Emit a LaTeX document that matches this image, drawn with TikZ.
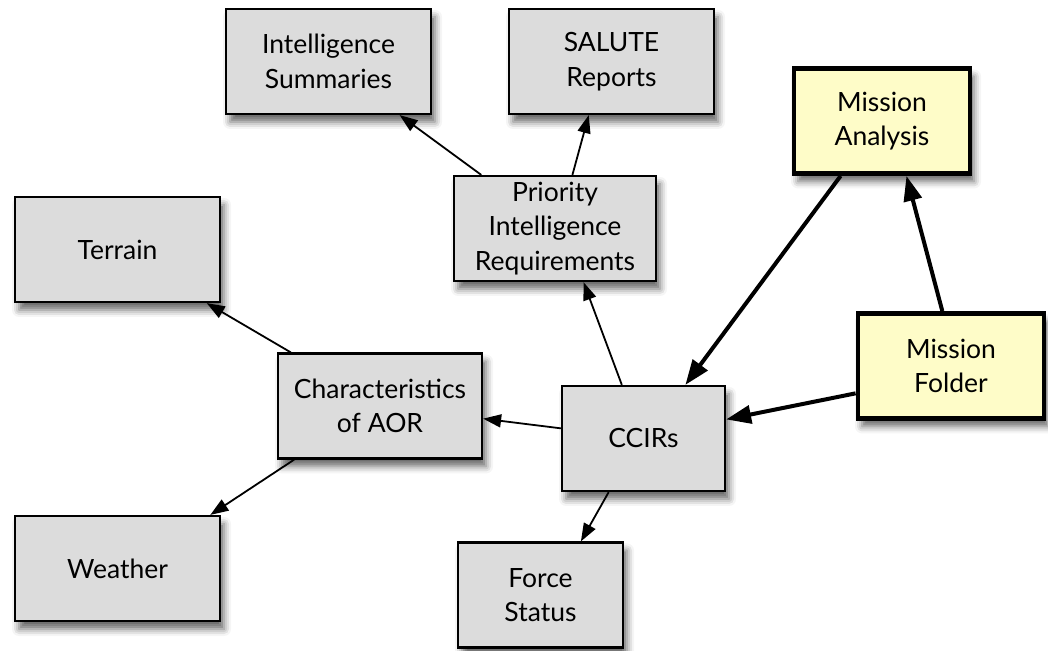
\documentclass[tikz,border=0pt]{standalone}
\usepackage{fontspec}
\setmainfont{Lato}
\usetikzlibrary{shadows.blur,arrows.meta}
\definecolor{boxgray}{HTML}{DCDCDC}
\definecolor{boxyellow}{HTML}{FEFCC8}
\tikzset{
  graybox/.style={draw=black, line width=2.2pt, fill=boxgray, align=center,
    minimum width=#1, minimum height=105pt, inner sep=0pt,
    font=\fontsize{26.5}{34.5}\selectfont,
    blur shadow={shadow xshift=4pt, shadow yshift=-8pt, shadow blur radius=7pt, shadow opacity=60}},
  yellowbox/.style={graybox=#1, line width=4.8pt, fill=boxyellow},
  thinarrow/.style={line width=1.8pt, -{Triangle[length=18pt,width=13pt]}},
  thickarrow/.style={line width=4pt, -{Triangle[length=25pt,width=18pt]}},
}
\begin{document}
\begin{tikzpicture}[x=1pt,y=1pt]
\useasboundingbox (0,0) rectangle (1048,650);
\node[graybox=205pt] (is) at (328.5,588.5) {Intelligence\\Summaries};
\node[graybox=205pt] (sr) at (611.5,588.5) {SALUTE\\Reports};
\node[yellowbox=176pt] (ma) at (882,529) {Mission\\Analysis};
\node[graybox=202pt] (pir) at (555,421.5) {Priority\\Intelligence\\Requirements};
\node[graybox=205pt] (ter) at (117.5,400.5) {Terrain};
\node[graybox=204pt] (car) at (380,244) {Characteristics\\of AOR};
\node[graybox=163pt] (cc) at (643.5,211.5) {CCIRs};
\node[yellowbox=186pt] (mf) at (951,284) {Mission\\Folder};
\node[graybox=205pt] (we) at (117.5,81.5) {Weather};
\node[graybox=165pt] (fs) at (540.5,55) {Force\\Status};

\draw[thinarrow] (pir.144) -- (is.-37);
\draw[thinarrow] (pir.72) -- (sr.-113);
\draw[thinarrow] (cc.112) -- (pir.-62);
\draw[thinarrow] (cc.173) -- (car.-7.5);
\draw[thinarrow] (car.149) -- (ter.-31);
\draw[thinarrow] (car.-148) -- (we.30.5);
\draw[thinarrow] (cc.-123) -- (fs.53.6);
\draw[thickarrow] (ma.-127) -- (cc.52.7);
\draw[thickarrow] (mf.99.5) -- (ma.-66);
\draw[thickarrow] (mf.-164.8) -- (cc.13.3);
\end{tikzpicture}
\end{document}
